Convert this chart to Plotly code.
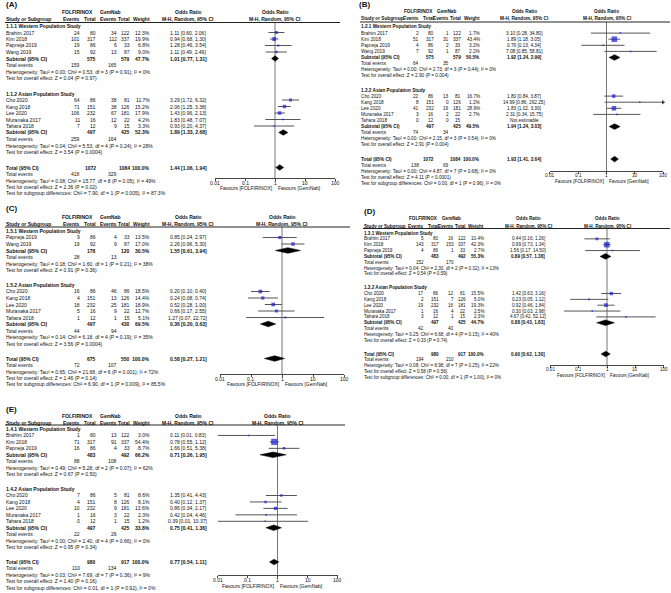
import math
import plotly.graph_objects as go

W, H = 671, 593
FONT = "Liberation Sans, Arial, sans-serif"
INK = "#111111"

TICKS = [0.01, 0.1, 1, 10, 100]
TICK_TEXT = ["0.01", "0.1", "1", "10", "100"]

# ---------------- (A) ----------------
A_SUBGROUPS = ["1.1.1 Western Population Study", "1.1.2 Asian Population Study"]
A_STUDY = ["Brahim 2017", "Kim 2018", "Papneja 2019", "Wang 2019",
           "Cho 2020", "Kang 2018", "Lee 2020", "Muranaka 2017", "Tahara 2018"]
A_GROUP = [0, 0, 0, 0, 1, 1, 1, 1, 1]
A_EV1 = [24, 101, 19, 15, 64, 71, 106, 11, 7]
A_N1 = [80, 317, 86, 92, 86, 151, 232, 16, 12]
A_EV2 = [34, 112, 6, 13, 38, 38, 67, 12, 9]
A_N2 = [122, 337, 33, 87, 81, 126, 181, 22, 15]
A_WT = [12.3, 19.9, 6.8, 9.0, 11.7, 15.2, 17.9, 4.2, 3.3]
A_OR = [1.11, 0.94, 1.28, 1.11, 3.29, 2.06, 1.43, 1.83, 0.93]
A_LO = [0.60, 0.68, 0.46, 0.49, 1.72, 1.25, 0.96, 0.48, 0.20]
A_HI = [2.06, 1.30, 3.54, 2.49, 6.32, 3.38, 2.13, 7.07, 4.37]
# pooled rows: subgroup 1, subgroup 2, overall
A_P_N1 = [575, 497, 1072]
A_P_N2 = [579, 425, 1084]
A_P_EV1 = [159, 259, 418]
A_P_EV2 = [165, 164, 329]
A_P_WT = [47.7, 52.3, 100.0]
A_P_OR = [1.01, 1.89, 1.44]
A_P_LO = [0.77, 1.33, 1.06]
A_P_HI = [1.31, 2.68, 1.94]
A_HET = ["Heterogeneity: Tau² = 0.00; Chi² = 0.53, df = 3 (P = 0.91); I² = 0%",
         "Heterogeneity: Tau² = 0.04; Chi² = 5.53, df = 4 (P = 0.24); I² = 28%",
         "Heterogeneity: Tau² = 0.08; Chi² = 15.77, df = 8 (P = 0.05); I² = 49%"]
A_Z = ["Test for overall effect: Z = 0.04 (P = 0.97)",
       "Test for overall effect: Z = 3.54 (P = 0.0004)",
       "Test for overall effect: Z = 2.36 (P = 0.02)"]
A_DIFF = "Test for subgroup differences: Chi² = 7.90, df = 1 (P = 0.005), I² = 87.3%"

# ---------------- (B) ----------------
B_SUBGROUPS = ["1.2.1 Western Population Study", "1.2.2 Asian Population Study"]
B_STUDY = ["Brahim 2017", "Kim 2018", "Papneja 2019", "Wang 2019",
           "Cho 2020", "Kang 2018", "Lee 2020", "Muranaka 2017", "Tahara 2018"]
B_GROUP = [0, 0, 0, 0, 1, 1, 1, 1, 1]
B_EV1 = [2, 51, 4, 7, 22, 8, 41, 3, 0]
B_N1 = [80, 317, 86, 92, 86, 151, 232, 16, 12]
B_EV2 = [1, 31, 2, 1, 13, 0, 19, 2, 0]
B_N2 = [122, 337, 33, 87, 81, 126, 181, 22, 15]
B_WT = [1.7, 43.4, 3.2, 2.2, 16.7, 1.2, 28.9, 2.7, None]
B_OR = [3.10, 1.89, 0.76, 7.08, 1.80, 14.99, 1.83, 2.31, None]
B_LO = [0.28, 1.18, 0.13, 0.85, 0.84, 0.86, 1.02, 0.34, None]
B_HI = [34.80, 3.05, 4.34, 58.81, 3.87, 262.25, 3.30, 15.75, None]
B_P_N1 = [575, 497, 1072]
B_P_N2 = [579, 425, 1084]
B_P_EV1 = [64, 74, 138]
B_P_EV2 = [35, 34, 69]
B_P_WT = [50.5, 49.5, 100.0]
B_P_OR = [1.92, 1.94, 1.93]
B_P_LO = [1.24, 1.24, 1.41]
B_P_HI = [2.99, 3.03, 2.64]
B_HET = ["Heterogeneity: Tau² = 0.00; Chi² = 2.73, df = 3 (P = 0.44); I² = 0%",
         "Heterogeneity: Tau² = 0.00; Chi² = 2.15, df = 3 (P = 0.54); I² = 0%",
         "Heterogeneity: Tau² = 0.00; Chi² = 4.87, df = 7 (P = 0.68); I² = 0%"]
B_Z = ["Test for overall effect: Z = 2.90 (P = 0.004)",
       "Test for overall effect: Z = 2.91 (P = 0.004)",
       "Test for overall effect: Z = 4.11 (P < 0.0001)"]
B_DIFF = "Test for subgroup differences: Chi² = 0.00, df = 1 (P = 0.96), I² = 0%"

# ---------------- (C) ----------------
C_SUBGROUPS = ["1.5.1 Western Population Study", "1.5.2 Asian Population Study"]
C_STUDY = ["Papneja 2019", "Wang 2019",
           "Cho 2020", "Kang 2018", "Lee 2020", "Muranaka 2017", "Tahara 2018"]
C_GROUP = [0, 0, 1, 1, 1, 1, 1]
C_EV1 = [9, 19, 16, 4, 18, 5, 1]
C_N1 = [86, 92, 86, 151, 232, 16, 12]
C_EV2 = [4, 9, 46, 13, 25, 9, 1]
C_N2 = [33, 87, 86, 126, 181, 22, 15]
C_WT = [13.5, 17.0, 18.5, 14.4, 18.9, 12.7, 5.1]
C_OR = [0.85, 2.26, 0.20, 0.24, 0.52, 0.66, 1.27]
C_LO = [0.24, 0.96, 0.10, 0.08, 0.28, 0.17, 0.07]
C_HI = [2.97, 5.30, 0.40, 0.74, 1.00, 2.55, 22.72]
C_P_N1 = [178, 497, 675]
C_P_N2 = [120, 430, 550]
C_P_EV1 = [28, 44, 72]
C_P_EV2 = [13, 94, 107]
C_P_WT = [30.5, 69.5, 100.0]
C_P_OR = [1.55, 0.36, 0.58]
C_P_LO = [0.61, 0.20, 0.27]
C_P_HI = [3.94, 0.63, 1.21]
C_HET = ["Heterogeneity: Tau² = 0.18; Chi² = 1.60, df = 1 (P = 0.21); I² = 38%",
         "Heterogeneity: Tau² = 0.14; Chi² = 6.18, df = 4 (P = 0.19); I² = 35%",
         "Heterogeneity: Tau² = 0.65; Chi² = 21.68, df = 6 (P = 0.001); I² = 72%"]
C_Z = ["Test for overall effect: Z = 0.91 (P = 0.36)",
       "Test for overall effect: Z = 3.56 (P = 0.0004)",
       "Test for overall effect: Z = 1.46 (P = 0.14)"]
C_DIFF = "Test for subgroup differences: Chi² = 6.90, df = 1 (P = 0.009), I² = 85.5%"

# ---------------- (D) ----------------
D_SUBGROUPS = ["1.3.1 Western Population Study", "1.3.2 Asian Population Study"]
D_STUDY = ["Brahim 2017", "Kim 2018", "Papneja 2019",
           "Cho 2020", "Kang 2018", "Lee 2020", "Muranaka 2017", "Tahara 2018"]
D_GROUP = [0, 0, 0, 1, 1, 1, 1, 1]
D_EV1 = [5, 143, 4, 17, 2, 19, 1, 3]
D_N1 = [80, 317, 86, 86, 151, 232, 16, 12]
D_EV2 = [16, 153, 1, 12, 7, 16, 4, 1]
D_N2 = [122, 337, 33, 81, 126, 181, 22, 15]
D_WT = [10.4, 42.3, 2.7, 15.5, 5.0, 19.3, 2.5, 2.3]
D_OR = [0.44, 0.99, 1.56, 1.42, 0.23, 0.92, 0.30, 4.67]
D_LO = [0.16, 0.73, 0.17, 0.63, 0.05, 0.46, 0.03, 0.42]
D_HI = [1.26, 1.34, 14.50, 3.16, 1.12, 1.84, 2.98, 52.12]
D_P_N1 = [483, 497, 980]
D_P_N2 = [492, 425, 917]
D_P_EV1 = [152, 42, 194]
D_P_EV2 = [170, 40, 210]
D_P_WT = [55.3, 44.7, 100.0]
D_P_OR = [0.89, 0.88, 0.90]
D_P_LO = [0.57, 0.43, 0.62]
D_P_HI = [1.38, 1.83, 1.30]
D_HET = ["Heterogeneity: Tau² = 0.04; Chi² = 2.30, df = 2 (P = 0.32); I² = 13%",
         "Heterogeneity: Tau² = 0.25; Chi² = 6.68, df = 4 (P = 0.15); I² = 40%",
         "Heterogeneity: Tau² = 0.08; Chi² = 8.98, df = 7 (P = 0.25); I² = 22%"]
D_Z = ["Test for overall effect: Z = 0.54 (P = 0.59)",
       "Test for overall effect: Z = 0.33 (P = 0.74)",
       "Test for overall effect: Z = 0.58 (P = 0.56)"]
D_DIFF = "Test for subgroup differences: Chi² = 0.00, df = 1 (P = 1.00), I² = 0%"

# ---------------- (E) ----------------
E_SUBGROUPS = ["1.4.1 Western Population Study", "1.4.2 Asian Population Study"]
E_STUDY = ["Brahim 2017", "Kim 2018", "Papneja 2019",
           "Cho 2020", "Kang 2018", "Lee 2020", "Muranaka 2017", "Tahara 2018"]
E_GROUP = [0, 0, 0, 1, 1, 1, 1, 1]
E_EV1 = [1, 71, 16, 7, 4, 10, 1, 0]
E_N1 = [80, 317, 86, 86, 151, 232, 16, 12]
E_EV2 = [13, 91, 4, 5, 8, 9, 3, 1]
E_N2 = [122, 337, 33, 81, 126, 181, 22, 15]
E_WT = [3.0, 54.4, 8.7, 8.6, 8.1, 13.6, 2.3, 1.2]
E_OR = [0.11, 0.78, 1.66, 1.35, 0.40, 0.86, 0.42, 0.39]
E_LO = [0.01, 0.55, 0.51, 0.41, 0.12, 0.34, 0.04, 0.01]
E_HI = [0.83, 1.12, 5.38, 4.43, 1.37, 2.17, 4.46, 10.37]
E_P_N1 = [483, 497, 980]
E_P_N2 = [492, 425, 917]
E_P_EV1 = [88, 22, 110]
E_P_EV2 = [108, 26, 134]
E_P_WT = [66.2, 33.8, 100.0]
E_P_OR = [0.71, 0.75, 0.77]
E_P_LO = [0.26, 0.41, 0.54]
E_P_HI = [1.95, 1.36, 1.11]
E_HET = ["Heterogeneity: Tau² = 0.49; Chi² = 5.28, df = 2 (P = 0.07); I² = 62%",
         "Heterogeneity: Tau² = 0.00; Chi² = 2.40, df = 4 (P = 0.66); I² = 0%",
         "Heterogeneity: Tau² = 0.03; Chi² = 7.69, df = 7 (P = 0.36); I² = 9%"]
E_Z = ["Test for overall effect: Z = 0.67 (P = 0.50)",
       "Test for overall effect: Z = 0.95 (P = 0.34)",
       "Test for overall effect: Z = 1.40 (P = 0.16)"]
E_DIFF = "Test for subgroup differences: Chi² = 0.01, df = 1 (P = 0.92), I² = 0%"


def panel(groups, study, grp, ev1, n1, ev2, n2, wt, or_, lo, hi,
          p_n1, p_n2, p_ev1, p_ev2, p_wt, p_or, p_lo, p_hi, het, z, diff):
    return dict(groups=groups, study=study, grp=grp, ev1=ev1, n1=n1, ev2=ev2, n2=n2,
                wt=wt, or_=or_, lo=lo, hi=hi, p_n1=p_n1, p_n2=p_n2, p_ev1=p_ev1,
                p_ev2=p_ev2, p_wt=p_wt, p_or=p_or, p_lo=p_lo, p_hi=p_hi,
                het=het, z=z, diff=diff)


PANELS = [
    panel(A_SUBGROUPS, A_STUDY, A_GROUP, A_EV1, A_N1, A_EV2, A_N2, A_WT, A_OR, A_LO, A_HI,
          A_P_N1, A_P_N2, A_P_EV1, A_P_EV2, A_P_WT, A_P_OR, A_P_LO, A_P_HI, A_HET, A_Z, A_DIFF),
    panel(B_SUBGROUPS, B_STUDY, B_GROUP, B_EV1, B_N1, B_EV2, B_N2, B_WT, B_OR, B_LO, B_HI,
          B_P_N1, B_P_N2, B_P_EV1, B_P_EV2, B_P_WT, B_P_OR, B_P_LO, B_P_HI, B_HET, B_Z, B_DIFF),
    panel(C_SUBGROUPS, C_STUDY, C_GROUP, C_EV1, C_N1, C_EV2, C_N2, C_WT, C_OR, C_LO, C_HI,
          C_P_N1, C_P_N2, C_P_EV1, C_P_EV2, C_P_WT, C_P_OR, C_P_LO, C_P_HI, C_HET, C_Z, C_DIFF),
    panel(D_SUBGROUPS, D_STUDY, D_GROUP, D_EV1, D_N1, D_EV2, D_N2, D_WT, D_OR, D_LO, D_HI,
          D_P_N1, D_P_N2, D_P_EV1, D_P_EV2, D_P_WT, D_P_OR, D_P_LO, D_P_HI, D_HET, D_Z, D_DIFF),
    panel(E_SUBGROUPS, E_STUDY, E_GROUP, E_EV1, E_N1, E_EV2, E_N2, E_WT, E_OR, E_LO, E_HI,
          E_P_N1, E_P_N2, E_P_EV1, E_P_EV2, E_P_WT, E_P_OR, E_P_LO, E_P_HI, E_HET, E_Z, E_DIFF),
]

# where each forest plot sits on the page (pixels)
LAYOUT = [
    dict(tag="(A)", lx=5, ly=5, sup=12, col=19, line=22.5, r0=26, p=6.5, gap=2.5,
         nx=5, cols=(81, 97, 118, 131, 151, 188), heads=(77, 111), x1=275, dec=30,
         rline=340, axis=178, fs=5),
    dict(tag="(B)", lx=358, ly=5, sup=12, col=19, line=22, r0=27, p=6.1, gap=2,
         nx=360, cols=(420, 435, 450, 462, 481, 524), heads=(418, 446), x1=606.5, dec=28.3,
         rline=670, axis=171, fs=4.7),
    dict(tag="(C)", lx=5, ly=208, sup=217, col=224, line=227, r0=231, p=6.5, gap=2,
         nx=5, cols=(81, 97, 118, 131, 151, 188), heads=(77, 111), x1=282, dec=31,
         rline=350, axis=374, fs=5),
    dict(tag="(D)", lx=363, ly=212, sup=219, col=226, line=228.5, r0=233, p=5.85, gap=2,
         nx=363, cols=(425, 440, 455, 467, 485, 528), heads=(423, 451), x1=607, dec=28.3,
         rline=670, axis=365, fs=4.6),
    dict(tag="(E)", lx=5, ly=409, sup=416, col=422.5, line=425, r0=429, p=6.45, gap=2,
         nx=5, cols=(81, 97, 118, 131, 151, 188), heads=(77, 111), x1=277.5, dec=30,
         rline=345, axis=575, fs=5),
]

fig = go.Figure()
notes, shapes, axes = [], [], {}


def put(x, y, s, anchor="left", bold=False, fs=5):
    s = str(s)
    notes.append(dict(x=x / W, y=1 - y / H, xref="paper", yref="paper",
                      text="<b>%s</b>" % s if bold else s, showarrow=False,
                      xanchor=anchor, yanchor="middle", borderpad=0,
                      font=dict(family=FONT, size=fs, color=INK)))


def ci(o, l, h):
    return "%.2f [%.2f, %.2f]" % (o, l, h)


for k, (d, L) in enumerate(zip(PANELS, LAYOUT), start=1):
    xa, ya = ("x", "y") if k == 1 else ("x%d" % k, "y%d" % k)
    fs = L["fs"]
    ce1, cn1, ce2, cn2, cw, co = L["cols"]
    nx, p = L["nx"], L["p"]

    # headers
    put(L["lx"], L["ly"], L["tag"], bold=True, fs=8)
    put(L["heads"][0], L["sup"], "FOLFIRINOX", "center", True, fs)
    put(L["heads"][1], L["sup"], "GemNab", "center", True, fs)
    put(co, L["sup"], "Odds Ratio", "center", True, fs)
    put(L["x1"], L["sup"], "Odds Ratio", "center", True, fs)
    put(nx, L["col"], "Study or Subgroup", bold=True, fs=fs)
    for c, s in zip((ce1, cn1, ce2, cn2, cw), ("Events", "Total", "Events", "Total", "Weight")):
        put(c, L["col"], s, "right", True, fs)
    put(co, L["col"], "M-H, Random, 95% CI", "center", True, fs)
    put(L["x1"], L["col"], "M-H, Random, 95% CI", "center", True, fs)
    shapes.append(dict(type="line", xref="paper", yref="paper",
                       x0=nx / W, x1=L["rline"] / W,
                       y0=1 - L["line"] / H, y1=1 - L["line"] / H,
                       line=dict(color="#222", width=1)))

    sq_x, sq_y, sq_s = [], [], []
    ln_x, ln_y = [], []
    ar_x, ar_y = [], []
    dia = []

    def pooled_rows(j, y, label):
        put(nx, y, label, bold=True, fs=fs)
        put(cn1, y, d["p_n1"][j], "right", True, fs)
        put(cn2, y, d["p_n2"][j], "right", True, fs)
        put(cw, y, "%.1f%%" % d["p_wt"][j], "right", True, fs)
        put(co, y, ci(d["p_or"][j], d["p_lo"][j], d["p_hi"][j]), "center", True, fs)
        dia.append((d["p_or"][j], d["p_lo"][j], d["p_hi"][j], y))
        y += p
        put(nx, y, "Total events", fs=fs)
        put(ce1, y, d["p_ev1"][j], "right", fs=fs)
        put(ce2, y, d["p_ev2"][j], "right", fs=fs)
        y += p
        put(nx, y, d["het"][j], fs=fs)
        y += p
        put(nx, y, d["z"][j], fs=fs)
        return y + p

    y = L["r0"]
    for g in (0, 1):
        put(nx, y, d["groups"][g], bold=True, fs=fs)
        y += p
        for i, name in enumerate(d["study"]):
            if d["grp"][i] != g:
                continue
            put(nx, y, name, fs=fs)
            put(ce1, y, d["ev1"][i], "right", fs=fs)
            put(cn1, y, d["n1"][i], "right", fs=fs)
            put(ce2, y, d["ev2"][i], "right", fs=fs)
            put(cn2, y, d["n2"][i], "right", fs=fs)
            if d["or_"][i] is None:
                put(co, y, "Not estimable", "center", fs=fs)
            else:
                put(cw, y, "%.1f%%" % d["wt"][i], "right", fs=fs)
                put(co, y, ci(d["or_"][i], d["lo"][i], d["hi"][i]), "center", fs=fs)
                sq_x.append(d["or_"][i])
                sq_y.append(y)
                sq_s.append(max(1.6, 0.85 * d["wt"][i] ** 0.5))
                ln_x += [d["lo"][i], d["hi"][i], None]
                ln_y += [y, y, None]
                if d["hi"][i] > 100:
                    ar_x.append(100)
                    ar_y.append(y)
            y += p
        y = pooled_rows(g, y, "Subtotal (95% CI)")
        y += p + L["gap"]
    y = pooled_rows(2, y, "Total (95% CI)")
    put(nx, y, d["diff"], fs=fs)

    # forest marks
    fig.add_trace(go.Scatter(x=[1, 1], y=[L["line"], L["axis"]], mode="lines",
                             line=dict(color="#777", width=1), xaxis=xa, yaxis=ya,
                             hoverinfo="skip"))
    fig.add_trace(go.Scatter(x=ln_x, y=ln_y, mode="lines", line=dict(color="#555", width=1),
                             xaxis=xa, yaxis=ya, hoverinfo="skip"))
    fig.add_trace(go.Scatter(x=sq_x, y=sq_y, mode="markers", xaxis=xa, yaxis=ya,
                             marker=dict(symbol="square", size=sq_s, color="#1a1ad6",
                                         line=dict(width=0))))
    if ar_x:
        fig.add_trace(go.Scatter(x=ar_x, y=ar_y, mode="markers", xaxis=xa, yaxis=ya,
                                 cliponaxis=False,
                                 marker=dict(symbol="triangle-right", size=4, color="#333")))
    for o, l, h, yy in dia:
        fig.add_trace(go.Scatter(x=[l, o, h, o, l], y=[yy, yy - 2.8, yy, yy + 2.8, yy],
                                 mode="lines", fill="toself", fillcolor="black",
                                 line=dict(color="black", width=0.5),
                                 xaxis=xa, yaxis=ya, hoverinfo="skip"))

    # tick labels and favours line under the axis
    for v, t in zip(TICKS, TICK_TEXT):
        put(L["x1"] + L["dec"] * math.log10(v), L["axis"] + 4.5, t, "center", fs=fs)
    put(L["x1"] - 1.5, L["axis"] + 10.5, "Favours [FOLFIRINOX]", "right", fs=fs)
    put(L["x1"] + 1.5, L["axis"] + 10.5, "Favours [GemNab]", "left", fs=fs)

    axes["xaxis" if k == 1 else "xaxis%d" % k] = dict(
        type="log", range=[-2, 2],
        domain=[(L["x1"] - 2 * L["dec"]) / W, (L["x1"] + 2 * L["dec"]) / W],
        anchor=ya, tickvals=TICKS, showticklabels=False,
        ticks="outside", ticklen=2, tickcolor="#444", showline=True,
        linecolor="#444", linewidth=1, showgrid=False, zeroline=False, fixedrange=True)
    axes["yaxis" if k == 1 else "yaxis%d" % k] = dict(
        domain=[1 - L["axis"] / H, 1 - L["line"] / H], range=[L["axis"], L["line"]],
        anchor=xa, visible=False, fixedrange=True)

fig.update_layout(width=W, height=H, margin=dict(l=0, r=0, t=0, b=0),
                  paper_bgcolor="white", plot_bgcolor="rgba(0,0,0,0)",
                  showlegend=False, annotations=notes, shapes=shapes, **axes)
# the page body has a default 8px margin; drop it so the figure fills the window
fig.write_html("out.html", config={"displayModeBar": False},
               post_script="document.body.style.margin = '0px';")
